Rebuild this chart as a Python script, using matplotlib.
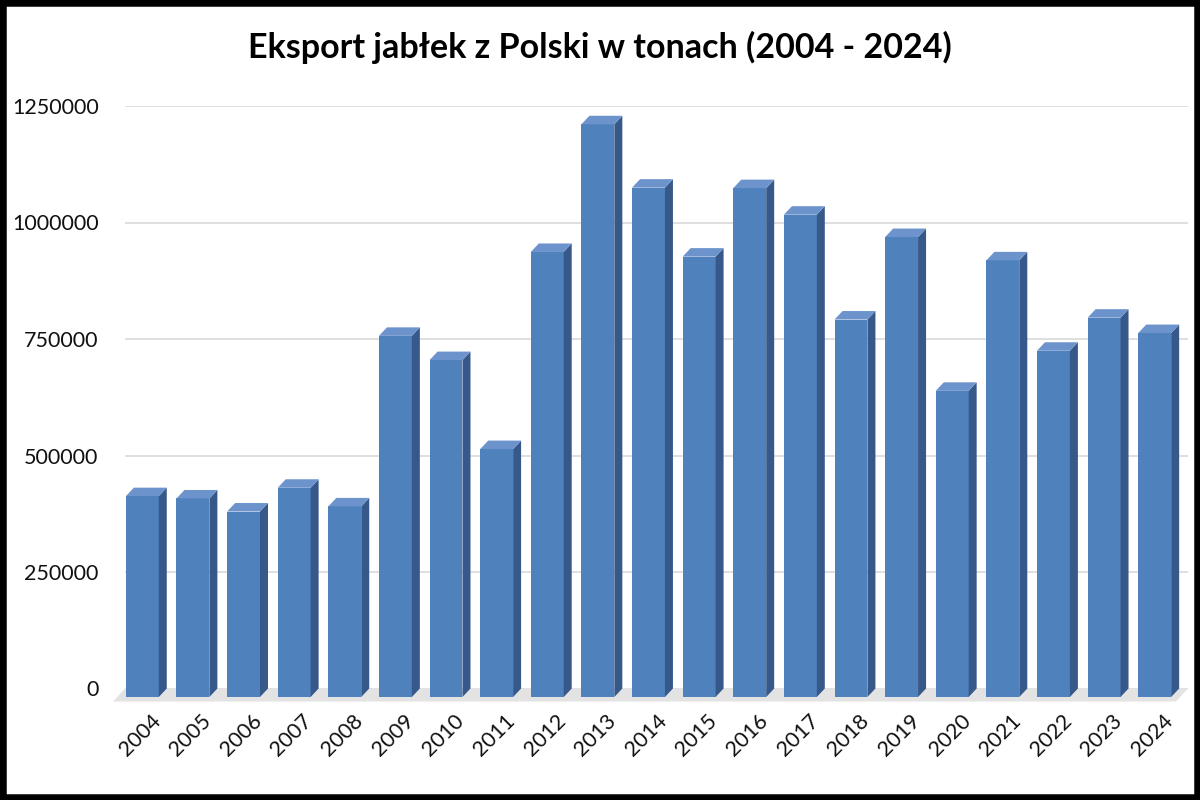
import matplotlib.pyplot as plt
from matplotlib.patches import Polygon, Rectangle
import numpy as np

plt.rcParams['font.family'] = ['Lato', 'DejaVu Sans']

years = ['2004', '2005', '2006', '2007', '2008', '2009', '2010', '2011', '2012', '2013', '2014',
         '2015', '2016', '2017', '2018', '2019', '2020', '2021', '2022', '2023', '2024']
export_t = [431000, 426000, 398000, 449000, 409000, 775000, 723000, 532000, 955000, 1229000, 1093000,
            945000, 1092000, 1035000, 810000, 987000, 657000, 937000, 743000, 814000, 781000]
y_ticks = [0, 250000, 500000, 750000, 1000000, 1250000]

front_col = '#4F81BD'
side_col = '#37598A'
top_col = '#6C93CB'

W, H = 1200, 800
fig = plt.figure(figsize=(12, 8), dpi=100)
# axes = back wall of the 3d chart
ax = fig.add_axes([125 / W, 1 - 688.5 / H, (1188 - 125) / W, (688.5 - 106) / H])
ax.set_xlim(-0.5, len(years) - 0.5)
ax.set_ylim(0, 1250000)

# pixel -> data conversion for the depth offsets
sx = (1188 - 125) / len(years)
sy = (688.5 - 106) / 1250000
dx, dy = 8 / sx, 8.5 / sy
fdx, fdy = 12 / sx, 13 / sy

x = np.arange(len(years))
w = 0.65

# floor
floor = Polygon([(-0.5, 0), (len(years) - 0.5, 0), (len(years) - 0.5 - fdx, -fdy), (-0.5 - fdx, -fdy)],
                closed=True, facecolor='#e3e3e3', edgecolor='none', clip_on=False, zorder=1)
ax.add_patch(floor)

# front faces
ax.bar(x - dx, export_t, width=w, bottom=-dy, color=front_col, linewidth=0,
       clip_on=False, zorder=3)

# side and top faces
for xi, v in zip(x, export_t):
    r = xi + w / 2
    l = xi - w / 2
    side = Polygon([(r - dx, -dy), (r - dx, v - dy), (r, v), (r, 0)], closed=True,
                   facecolor=side_col, edgecolor='none', clip_on=False, zorder=3)
    top = Polygon([(l - dx, v - dy), (r - dx, v - dy), (r, v), (l, v)], closed=True,
                  facecolor=top_col, edgecolor='none', clip_on=False, zorder=3)
    ax.add_patch(side)
    ax.add_patch(top)

ax.set_yticks(y_ticks)
ax.set_yticklabels([str(t) for t in y_ticks])
ax.yaxis.grid(True, color='#d9d9d9', linewidth=1.2)
ax.set_axisbelow(True)
ax.set_xticks(x)
ax.set_xticklabels(years, rotation=45, ha='right', rotation_mode='anchor')
ax.tick_params(axis='both', length=0, labelsize=15.5, labelcolor='#111111')
ax.tick_params(axis='y', pad=19)
ax.tick_params(axis='x', pad=16)
for s in ax.spines.values():
    s.set_visible(False)

fig.text(0.5, 1 - 47 / H, 'Eksport jabłek z Polski w tonach (2004 - 2024)',
         ha='center', va='center', fontsize=24.5, fontweight='bold')

fig.patches.append(Rectangle((0, 0), 1, 1, transform=fig.transFigure, fill=False,
                             edgecolor='black', linewidth=9))

fig.savefig('out.png', dpi=100)
